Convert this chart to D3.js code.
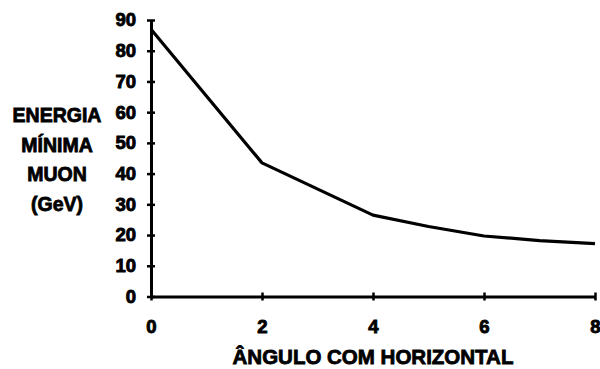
<!DOCTYPE html>
<html>
<head>
<meta charset="utf-8">
<script src="https://cdn.jsdelivr.net/npm/d3@7"></script>
<style>
  html, body { margin: 0; padding: 0; background: #fff; }
  svg { display: block; }
  text { font-family: "Liberation Sans", Arial, sans-serif; font-weight: bold; fill: #000; }
</style>
</head>
<body>
<svg id="chart" width="600" height="369"></svg>
<script>
// Minimum muon energy versus angle with the horizontal
const angles = [0, 2, 4, 5, 6, 7, 8];
const energies = [87, 43.5, 26.5, 22.8, 19.7, 18.2, 17.2];
const xTicks = [0, 2, 4, 6, 8];
const yTicks = [0, 10, 20, 30, 40, 50, 60, 70, 80, 90];
const yTitle = ["ENERGIA", "MÍNIMA", "MUON", "(GeV)"];
const xTitle = "ÂNGULO COM HORIZONTAL";

const svg = d3.select("#chart");
const x = d3.scaleLinear().domain([0, 8]).range([151, 595]);
const y = d3.scaleLinear().domain([0, 90]).range([296.5, 20]);

// Y axis
const gy = svg.append("g").attr("transform", `translate(${x(0)},0)`)
  .call(d3.axisLeft(y).tickValues(yTicks).tickSize(0).tickPadding(15));
gy.select(".domain").attr("stroke", "#000").attr("stroke-width", 3);
gy.selectAll(".tick").append("line").attr("x1", -4).attr("x2", 4)
  .attr("stroke", "#000").attr("stroke-width", 2.5);
gy.selectAll(".tick text").style("font-size", "18.5px")
  .attr("stroke", "#000").attr("stroke-width", 0.9);

// X axis
const gx = svg.append("g").attr("transform", `translate(0,${y(0)})`)
  .call(d3.axisBottom(x).tickValues(xTicks).tickSize(0).tickPadding(23));
gx.select(".domain").attr("stroke", "#000").attr("stroke-width", 3);
gx.selectAll(".tick").append("line").attr("y1", -4).attr("y2", 4)
  .attr("stroke", "#000").attr("stroke-width", 2.5);
gx.selectAll(".tick text").style("font-size", "18.5px")
  .attr("stroke", "#000").attr("stroke-width", 0.9);

// Curve
const line = d3.line().x((d, i) => x(angles[i])).y(d => y(d));
svg.append("path").datum(energies)
  .attr("d", line)
  .attr("fill", "none").attr("stroke", "#000")
  .attr("stroke-width", 3.2).attr("stroke-linejoin", "round");

// Y title
svg.append("text").attr("text-anchor", "middle")
  .style("font-size", "19.5px").attr("stroke", "#000").attr("stroke-width", 0.8)
  .selectAll("tspan").data(yTitle).join("tspan")
  .attr("x", 57).attr("y", (d, i) => 122 + i * 29.5).text(d => d);

// X title
svg.append("text").attr("text-anchor", "middle")
  .attr("x", 373).attr("y", 364)
  .style("font-size", "20.5px").attr("stroke", "#000").attr("stroke-width", 0.8)
  .text(xTitle);
</script>
</body>
</html>
